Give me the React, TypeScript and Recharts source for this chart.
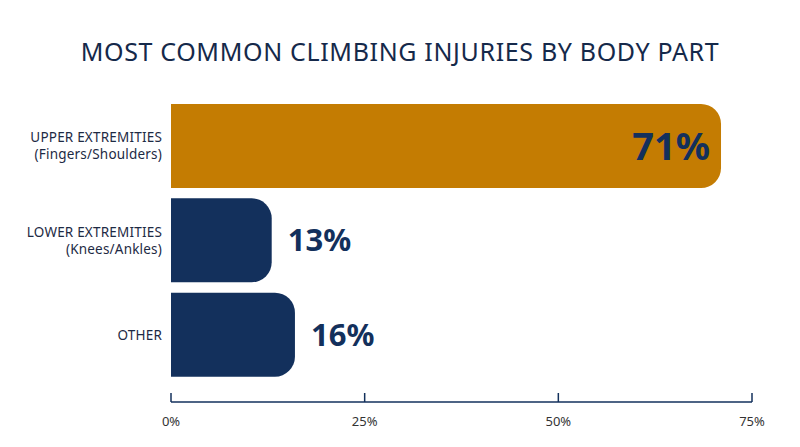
import React from 'react';
import { BarChart, Bar, XAxis, YAxis, Cell, LabelList } from 'recharts';

const CATEGORIES = ['UPPER EXTREMITIES|(Fingers/Shoulders)', 'LOWER EXTREMITIES|(Knees/Ankles)', 'OTHER'];
const PERCENTS = [71, 13, 16];
const X_TICKS = [0, 25, 50, 75];
const TITLE = 'MOST COMMON CLIMBING INJURIES BY BODY PART';

const NAVY = '#13305c';
const ORANGE = '#c47c02';
const FONT = '"Noto Sans", "Open Sans", sans-serif';

const data = CATEGORIES.map((name, i) => ({ name, value: PERCENTS[i] }));

const CategoryTick = (props: any) => {
    const { y, payload } = props;
    const lines = String(payload.value).split('|');
    const lh = 17;
    const start = y - ((lines.length - 1) * lh) / 2;
    const right = 162;
    return (
        <text x={right} textAnchor="end" fill="#1d2a44" fontSize={13.5} fontFamily={FONT} letterSpacing={0.2}>
            {lines.map((l, i) => (
                <tspan key={i} x={right} y={start + i * lh} dy="0.35em">{l}</tspan>
            ))}
        </text>
    );
};

const PercentTick = (props: any) => {
    const { x, y, payload } = props;
    return (
        <g>
            <line x1={x} x2={x} y1={y - 9} y2={y} stroke={NAVY} strokeWidth={1.5} />
            <text x={x} y={y + 19} dy="0.35em" textAnchor="middle" fill="#333" fontSize={13} fontFamily={FONT}>
                {payload.value}%
            </text>
        </g>
    );
};

const ValueLabel = (props: any) => {
    const { x, y, width, height, value } = props;
    const inside = value > 50;
    const size = inside ? 38 : 31;
    const cy = y + height / 2;
    return (
        <text
            x={inside ? x + width - 11 : x + width + 16}
            y={cy + size * 0.36}
            textAnchor={inside ? 'end' : 'start'}
            fill={NAVY}
            fontSize={size}
            fontWeight={700}
            fontFamily={FONT}
        >
            {value}%
        </text>
    );
};

export default function App() {
    return (
        <div style={{ position: 'absolute', left: 0, top: 0, width: 800, height: 447, background: '#fff' }}>
            <div
                style={{
                    position: 'absolute',
                    top: 34,
                    left: 0,
                    width: 800,
                    textAlign: 'center',
                    fontFamily: FONT,
                    fontSize: 25,
                    fontWeight: 400,
                    lineHeight: '34px',
                    color: '#15294a',
                    letterSpacing: 0.65,
                }}
            >
                {TITLE}
            </div>
            <BarChart
                width={800}
                height={447}
                data={data}
                layout="vertical"
                margin={{ top: 99, right: 48, bottom: 0, left: 0 }}
            >
                <XAxis
                    type="number"
                    domain={[0, 75]}
                    ticks={X_TICKS}
                    height={45}
                    tickSize={0}
                    tickMargin={0}
                    tickLine={false}
                    axisLine={{ stroke: NAVY, strokeWidth: 1.5 }}
                    tick={<PercentTick />}
                    interval={0}
                />
                <YAxis
                    type="category"
                    dataKey="name"
                    width={171}
                    axisLine={false}
                    tickLine={false}
                    tick={<CategoryTick />}
                    padding={{ top: 0, bottom: 20 }}
                />
                <Bar dataKey="value" barSize={84} radius={[0, 20, 20, 0]} isAnimationActive={false}>
                    {data.map((d, i) => (
                        <Cell key={i} fill={i === 0 ? ORANGE : NAVY} />
                    ))}
                    <LabelList dataKey="value" content={<ValueLabel />} />
                </Bar>
            </BarChart>
        </div>
    );
}
